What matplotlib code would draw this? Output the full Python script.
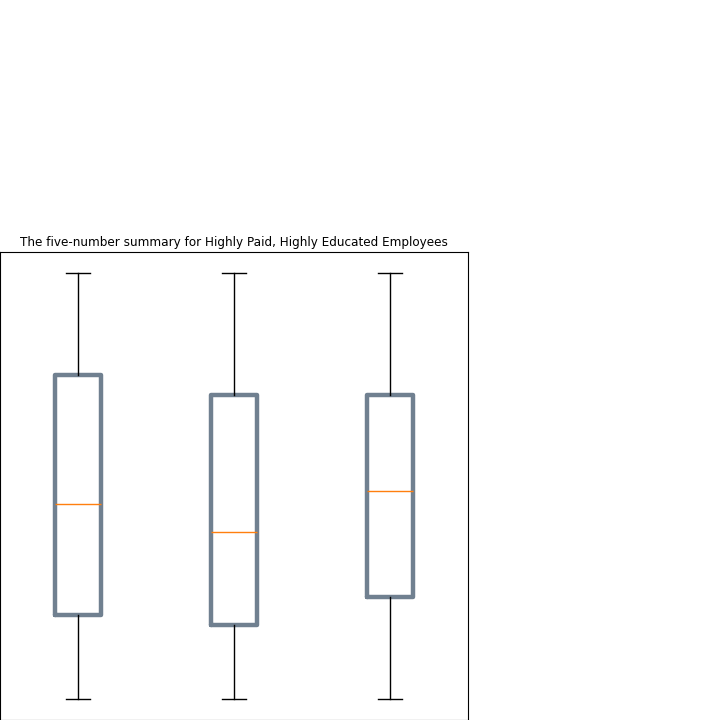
import matplotlib
matplotlib.use('Agg')
import matplotlib.pyplot as plt

# five-number summaries (thousands)
groups = ['Group A', 'Group B', 'Group C']
mins = [59.0, 59.0, 59.0]
q1s = [68.1, 67.0, 70.1]
medians = [80.1, 77.1, 81.6]
q3s = [94.1, 92.0, 92.0]
maxs = [105.2, 105.2, 105.2]

stats = []
for g, lo, a, m, b, hi in zip(groups, mins, q1s, medians, q3s, maxs):
    stats.append({'label': g, 'whislo': lo, 'q1': a, 'med': m,
                  'q3': b, 'whishi': hi, 'fliers': []})

fig = plt.figure(figsize=(7.2, 7.2), dpi=100)
ax = fig.add_axes([0, 0, 0.65, 0.65])

ax.bxp(stats, widths=0.3, patch_artist=False,
       boxprops=dict(color='slategray', linewidth=3.2,
                     solid_joinstyle='round', solid_capstyle='round'),
       medianprops=dict(color='C1'),
       whiskerprops=dict(color='black'),
       capprops=dict(color='black'))

ax.set_title('The five-number summary for Highly Paid, Highly Educated Employees',
             fontsize=8.65, pad=4)

fig.savefig('out.png', dpi=100)
